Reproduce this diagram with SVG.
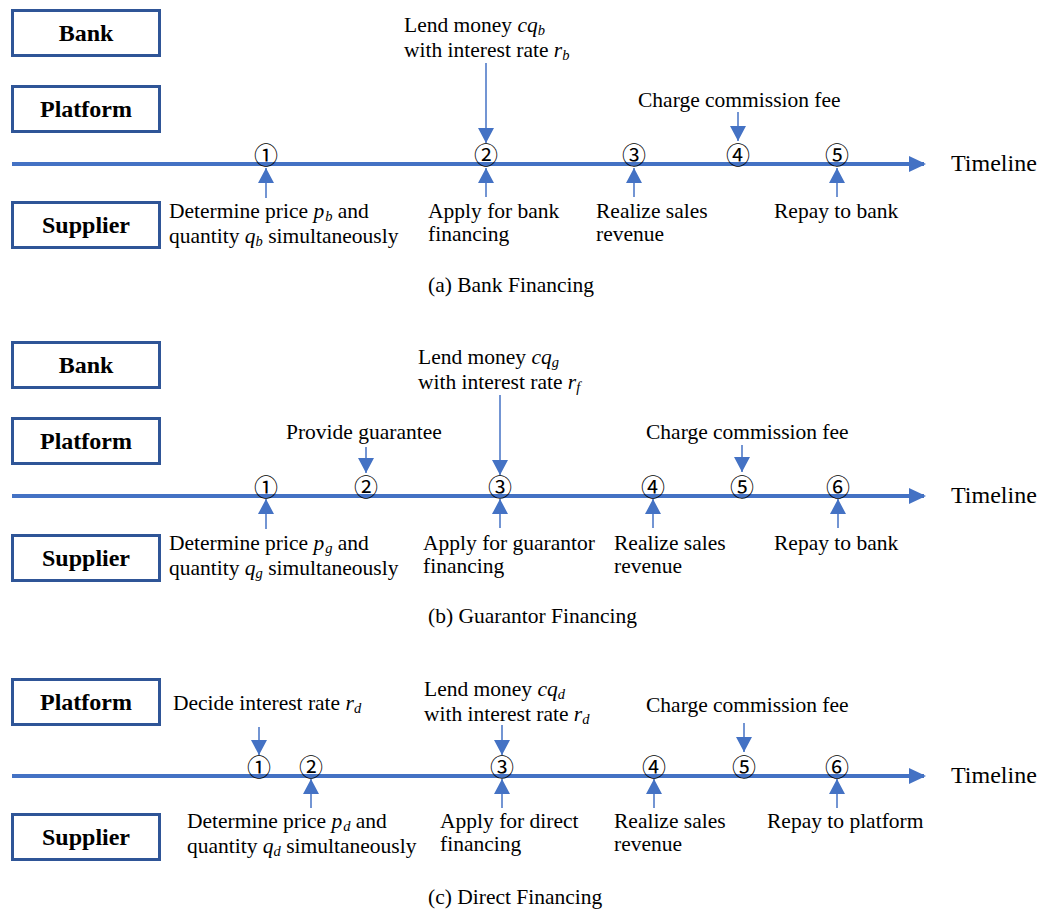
<svg xmlns="http://www.w3.org/2000/svg" width="1056" height="910" viewBox="0 0 1056 910">
<defs>
<style>
.box{fill:#fff;stroke:#2F5597;stroke-width:3}
.bl{font-family:"Liberation Serif",serif;font-weight:bold;font-size:24px;fill:#000;text-anchor:middle}
.t{font-family:"Liberation Serif",serif;font-size:21.5px;fill:#000}
.tl{font-family:"Liberation Serif",serif;font-size:24px;fill:#000}
.m{font-style:italic}
.s{font-style:italic;font-size:14.5px}
.cn{font-family:"Noto Sans CJK SC","DejaVu Sans",sans-serif;font-size:24px;fill:#000;text-anchor:middle}
.tline{stroke:#4472C4;stroke-width:4;fill:none}
.ar{stroke:#4472C4;stroke-width:1.5;fill:none}
</style>
<marker id="ah" viewBox="0 0 15 16" markerWidth="15" markerHeight="16" refX="15" refY="8" orient="auto" markerUnits="userSpaceOnUse"><path d="M0,0 L15,8 L0,16 Z" fill="#4472C4"/></marker>
<marker id="th" viewBox="0 0 17 16" markerWidth="17" markerHeight="16" refX="15" refY="8" orient="auto" markerUnits="userSpaceOnUse"><path d="M0,0 L17,8 L0,16 Z" fill="#4472C4"/></marker>
</defs>
<rect width="1056" height="910" fill="#fff"/>

<g id="connectors">
<!-- (a) -->
<line class="tline" x1="12" y1="164" x2="924" y2="164" marker-end="url(#th)"/>
<line class="ar" x1="266" y1="198" x2="266" y2="168" marker-end="url(#ah)"/>
<line class="ar" x1="486" y1="63" x2="486" y2="143" marker-end="url(#ah)"/>
<line class="ar" x1="486" y1="197" x2="486" y2="168" marker-end="url(#ah)"/>
<line class="ar" x1="634" y1="197" x2="634" y2="168" marker-end="url(#ah)"/>
<line class="ar" x1="738" y1="112" x2="738" y2="141" marker-end="url(#ah)"/>
<line class="ar" x1="837" y1="197" x2="837" y2="168" marker-end="url(#ah)"/>
<!-- (b) -->
<line class="tline" x1="12" y1="496" x2="924" y2="496" marker-end="url(#th)"/>
<line class="ar" x1="266" y1="529" x2="266" y2="499" marker-end="url(#ah)"/>
<line class="ar" x1="366" y1="447" x2="366" y2="473" marker-end="url(#ah)"/>
<line class="ar" x1="500" y1="395" x2="500" y2="475" marker-end="url(#ah)"/>
<line class="ar" x1="500" y1="528" x2="500" y2="499" marker-end="url(#ah)"/>
<line class="ar" x1="653" y1="528" x2="653" y2="499" marker-end="url(#ah)"/>
<line class="ar" x1="742" y1="445" x2="742" y2="472" marker-end="url(#ah)"/>
<line class="ar" x1="838" y1="528" x2="838" y2="499" marker-end="url(#ah)"/>
<!-- (c) -->
<line class="tline" x1="12" y1="776" x2="924" y2="776" marker-end="url(#th)"/>
<line class="ar" x1="259" y1="727" x2="259" y2="755" marker-end="url(#ah)"/>
<line class="ar" x1="311" y1="808" x2="311" y2="779" marker-end="url(#ah)"/>
<line class="ar" x1="502" y1="725" x2="502" y2="755" marker-end="url(#ah)"/>
<line class="ar" x1="502" y1="808" x2="502" y2="779" marker-end="url(#ah)"/>
<line class="ar" x1="654" y1="808" x2="654" y2="779" marker-end="url(#ah)"/>
<line class="ar" x1="744" y1="723" x2="744" y2="752" marker-end="url(#ah)"/>
<line class="ar" x1="837" y1="808" x2="837" y2="779" marker-end="url(#ah)"/>
</g>

<!-- Panel (a) -->
<g id="a-bank"><rect class="box" x="12.5" y="10.5" width="147" height="45"/><text class="bl" x="86" y="41">Bank</text></g>
<g id="a-platform"><rect class="box" x="12.5" y="86.5" width="147" height="45"/><text class="bl" x="86" y="117">Platform</text></g>
<g id="a-supplier"><rect class="box" x="12.5" y="202.5" width="147" height="45"/><text class="bl" x="86" y="233">Supplier</text></g>
<g id="a-timeline"><text class="tl" x="951" y="171">Timeline</text></g>
<g id="a-steps">
<text class="cn" x="266" y="164">①</text>
<text class="cn" x="486" y="164">②</text>
<text class="cn" x="634" y="164">③</text>
<text class="cn" x="738" y="164">④</text>
<text class="cn" x="837" y="164">⑤</text>
</g>
<g id="a-e1"><text class="t" x="169" y="218">Determine price <tspan class="m">p</tspan><tspan class="s" dx="1" baseline-shift="-3">b</tspan> and</text><text class="t" x="169" y="243">quantity <tspan class="m">q</tspan><tspan class="s" baseline-shift="-3">b</tspan> simultaneously</text></g>
<g id="a-e2"><text class="t" x="404" y="32">Lend money <tspan class="m">cq</tspan><tspan class="s" baseline-shift="-3">b</tspan></text><text class="t" x="404" y="57">with interest rate <tspan class="m">r</tspan><tspan class="s" baseline-shift="-3">b</tspan></text></g>
<g id="a-e3"><text class="t" x="428" y="218">Apply for bank</text><text class="t" x="428" y="241">financing</text></g>
<g id="a-e4"><text class="t" x="596" y="218">Realize sales</text><text class="t" x="596" y="241">revenue</text></g>
<g id="a-e5"><text class="t" x="638" y="107">Charge commission fee</text></g>
<g id="a-e6"><text class="t" x="774" y="218">Repay to bank</text></g>
<g id="a-caption"><text class="t" x="428" y="292">(a) Bank Financing</text></g>

<!-- Panel (b) -->
<g id="b-bank"><rect class="box" x="12.5" y="342.5" width="147" height="45"/><text class="bl" x="86" y="373">Bank</text></g>
<g id="b-platform"><rect class="box" x="12.5" y="418.5" width="147" height="45"/><text class="bl" x="86" y="449">Platform</text></g>
<g id="b-supplier"><rect class="box" x="12.5" y="535.5" width="147" height="45"/><text class="bl" x="86" y="566">Supplier</text></g>
<g id="b-timeline"><text class="tl" x="951" y="503">Timeline</text></g>
<g id="b-steps">
<text class="cn" x="266" y="496">①</text>
<text class="cn" x="366" y="496">②</text>
<text class="cn" x="500" y="496">③</text>
<text class="cn" x="653" y="496">④</text>
<text class="cn" x="742" y="496">⑤</text>
<text class="cn" x="838" y="496">⑥</text>
</g>
<g id="b-e1"><text class="t" x="169" y="550">Determine price <tspan class="m">p</tspan><tspan class="s" dx="1" baseline-shift="-3">g</tspan> and</text><text class="t" x="169" y="575">quantity <tspan class="m">q</tspan><tspan class="s" baseline-shift="-3">g</tspan> simultaneously</text></g>
<g id="b-e2"><text class="t" x="286" y="439">Provide guarantee</text></g>
<g id="b-e3"><text class="t" x="418" y="364">Lend money <tspan class="m">cq</tspan><tspan class="s" baseline-shift="-3">g</tspan></text><text class="t" x="418" y="389">with interest rate <tspan class="m">r</tspan><tspan class="s" baseline-shift="-3">f</tspan></text></g>
<g id="b-e4"><text class="t" x="423" y="550">Apply for guarantor</text><text class="t" x="423" y="573">financing</text></g>
<g id="b-e5"><text class="t" x="614" y="550">Realize sales</text><text class="t" x="614" y="573">revenue</text></g>
<g id="b-e6"><text class="t" x="646" y="439">Charge commission fee</text></g>
<g id="b-e7"><text class="t" x="774" y="550">Repay to bank</text></g>
<g id="b-caption"><text class="t" x="428" y="623">(b) Guarantor Financing</text></g>

<!-- Panel (c) -->
<g id="c-platform"><rect class="box" x="12.5" y="679.5" width="147" height="45"/><text class="bl" x="86" y="710">Platform</text></g>
<g id="c-supplier"><rect class="box" x="12.5" y="814.5" width="147" height="45"/><text class="bl" x="86" y="845">Supplier</text></g>
<g id="c-timeline"><text class="tl" x="951" y="783">Timeline</text></g>
<g id="c-steps">
<text class="cn" x="259" y="776">①</text>
<text class="cn" x="311" y="776">②</text>
<text class="cn" x="502" y="776">③</text>
<text class="cn" x="654" y="776">④</text>
<text class="cn" x="744" y="776">⑤</text>
<text class="cn" x="837" y="776">⑥</text>
</g>
<g id="c-e1"><text class="t" x="173" y="710">Decide interest rate <tspan class="m">r</tspan><tspan class="s" baseline-shift="-3">d</tspan></text></g>
<g id="c-e2"><text class="t" x="187" y="828">Determine price <tspan class="m">p</tspan><tspan class="s" dx="1" baseline-shift="-3">d</tspan> and</text><text class="t" x="187" y="853">quantity <tspan class="m">q</tspan><tspan class="s" baseline-shift="-3">d</tspan> simultaneously</text></g>
<g id="c-e3"><text class="t" x="424" y="696">Lend money <tspan class="m">cq</tspan><tspan class="s" baseline-shift="-3">d</tspan></text><text class="t" x="424" y="721">with interest rate <tspan class="m">r</tspan><tspan class="s" baseline-shift="-3">d</tspan></text></g>
<g id="c-e4"><text class="t" x="440" y="828">Apply for direct</text><text class="t" x="440" y="851">financing</text></g>
<g id="c-e5"><text class="t" x="614" y="828">Realize sales</text><text class="t" x="614" y="851">revenue</text></g>
<g id="c-e6"><text class="t" x="646" y="712">Charge commission fee</text></g>
<g id="c-e7"><text class="t" x="767" y="828">Repay to platform</text></g>
<g id="c-caption"><text class="t" x="428" y="904">(c) Direct Financing</text></g>
</svg>
